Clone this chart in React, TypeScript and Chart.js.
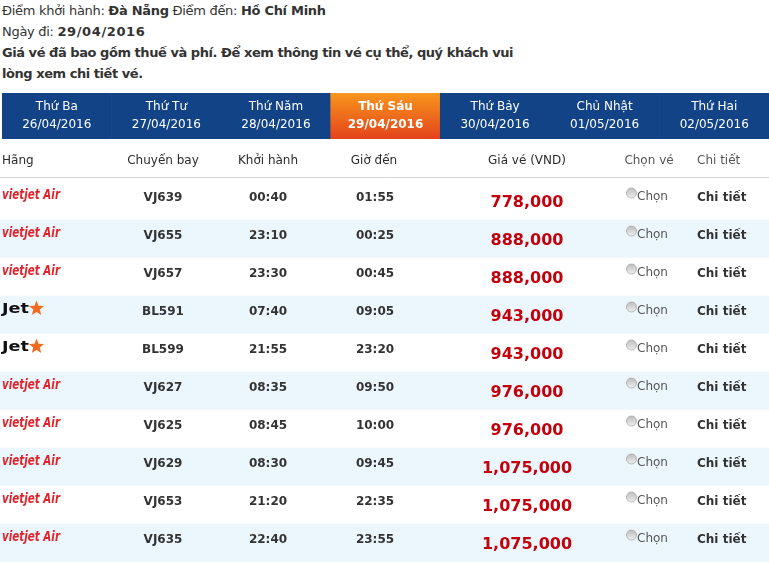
import React, { useEffect, useRef } from "react";
import { Chart, registerables } from "chart.js";

Chart.register(...registerables);

// ---------- data ----------
const dayNames = ["Thứ Ba", "Thứ Tư", "Thứ Năm", "Thứ Sáu", "Thứ Bảy", "Chủ Nhật", "Thứ Hai"];
const dayDates = ["26/04/2016", "27/04/2016", "28/04/2016", "29/04/2016", "30/04/2016", "01/05/2016", "02/05/2016"];
const selectedDay = 3;

const columnHeaders = ["Hãng", "Chuyến bay", "Khởi hành", "Giờ đến", "Giá vé (VND)", "Chọn vé", "Chi tiết"];
const airlines = ["vietjet", "vietjet", "vietjet", "jetstar", "jetstar", "vietjet", "vietjet", "vietjet", "vietjet", "vietjet"];
const flights = ["VJ639", "VJ655", "VJ657", "BL591", "BL599", "VJ627", "VJ625", "VJ629", "VJ653", "VJ635"];
const departures = ["00:40", "23:10", "23:30", "07:40", "21:55", "08:35", "08:45", "08:30", "21:20", "22:40"];
const arrivals = ["01:55", "00:25", "00:45", "09:05", "23:20", "09:50", "10:00", "09:45", "22:35", "23:55"];
const prices = [778000, 888000, 888000, 943000, 943000, 976000, 976000, 1075000, 1075000, 1075000];
const chooseLabel = "Chọn";
const detailLabel = "Chi tiết";

// ---------- layout (not data) ----------
const W = 769;
const TABLE_UNITS = 769; // x-scale span of the table
const COL_ANCHOR = [2, 163, 268, 375, 527, 627, 697];
const HEADER_ANCHOR = [2, 163, 268, 374, 527, 649, 697];
const HEADER_ALIGN: CanvasTextAlign[] = ["left", "center", "center", "center", "center", "center", "left"];
const FONT = '"DejaVu Sans", Verdana, sans-serif';

function DateBand() {
  const ref = useRef<HTMLCanvasElement | null>(null);
  useEffect(() => {
    const canvas = ref.current!;
    const labelPlugin = {
      id: "dayLabels",
      afterDatasetsDraw(chart: any) {
        const { ctx } = chart;
        const xs = chart.scales.x;
        const area = chart.chartArea;
        ctx.save();
        ctx.fillStyle = "#ffffff";
        ctx.textAlign = "center";
        ctx.textBaseline = "middle";
        dayNames.forEach((d, i) => {
          const cx = xs.getPixelForValue(i);
          ctx.font = `${i === selectedDay ? "bold " : ""}12px ${FONT}`;
          ctx.fillText(d, cx, area.top + 14);
          ctx.fillText(dayDates[i], cx, area.top + 32);
        });
        ctx.restore();
      },
    };
    const chart = new Chart(canvas, {
      type: "bar",
      data: {
        labels: dayNames,
        datasets: [
          {
            data: dayNames.map(() => 1),
            barPercentage: 1,
            categoryPercentage: 1,
            borderWidth: 0,
            backgroundColor: (c: any) => {
              if (c.dataIndex !== selectedDay) return "#124386";
              const area = c.chart.chartArea;
              if (!area) return "#f27a1e";
              const g = c.chart.ctx.createLinearGradient(0, area.top, 0, area.bottom);
              g.addColorStop(0, "#f8961d");
              g.addColorStop(1, "#e4421b");
              return g;
            },
          },
        ],
      },
      options: {
        responsive: false,
        animation: false,
        events: [],
        layout: { padding: { left: 2, right: 0, top: 0, bottom: 0 } },
        plugins: { legend: { display: false }, tooltip: { enabled: false } },
        scales: {
          x: { display: false, grid: { display: false } },
          y: { display: false, min: 0, max: 1, grid: { display: false } },
        },
      },
      plugins: [labelPlugin],
    });
    return () => chart.destroy();
  }, []);
  return (
    <canvas
      ref={ref}
      width={W}
      height={46}
      style={{ position: "absolute", left: 0, top: 93, width: W, height: 46 }}
    />
  );
}

function drawStar(ctx: CanvasRenderingContext2D, cx: number, cy: number, outer: number, inner: number) {
  ctx.beginPath();
  for (let k = 0; k < 10; k++) {
    const r = k % 2 === 0 ? outer : inner;
    const a = -Math.PI / 2 + (k * Math.PI) / 5;
    const px = cx + r * Math.cos(a);
    const py = cy + r * Math.sin(a);
    if (k === 0) ctx.moveTo(px, py);
    else ctx.lineTo(px, py);
  }
  ctx.closePath();
  ctx.fill();
}

function fitText(ctx: CanvasRenderingContext2D, text: string, x: number, y: number, width: number) {
  const m = ctx.measureText(text).width;
  ctx.save();
  ctx.translate(x, y);
  ctx.scale(width / m, 1);
  ctx.fillText(text, 0, 0);
  ctx.restore();
}

function FlightTable() {
  const ref = useRef<HTMLCanvasElement | null>(null);
  useEffect(() => {
    const canvas = ref.current!;
    const tablePlugin = {
      id: "tableCells",
      afterDatasetsDraw(chart: any) {
        const { ctx } = chart;
        const xs = chart.scales.x;
        const ys = chart.scales.y;
        const area = chart.chartArea;
        ctx.save();
        // header row
        ctx.textBaseline = "alphabetic";
        columnHeaders.forEach((h, j) => {
          ctx.font = `12px ${FONT}`;
          ctx.fillStyle = j < 5 ? "#2b2b2b" : "#555555";
          ctx.textAlign = HEADER_ALIGN[j];
          ctx.fillText(h, xs.getPixelForValue(HEADER_ANCHOR[j]), area.top - 18);
        });
        ctx.strokeStyle = "#d6d6d6";
        ctx.lineWidth = 1;
        ctx.beginPath();
        ctx.moveTo(area.left, area.top - 4.5);
        ctx.lineTo(area.right, area.top - 4.5);
        ctx.stroke();

        flights.forEach((f, i) => {
          const cy = ys.getPixelForValue(i);
          // airline logo
          const lx = xs.getPixelForValue(COL_ANCHOR[0]);
          ctx.textAlign = "left";
          if (airlines[i] === "vietjet") {
            ctx.font = `italic bold 14px ${FONT}`;
            ctx.fillStyle = "#e0222b";
            fitText(ctx, "vietjet Air", lx, cy - 2, 58);
          } else {
            ctx.font = `bold 14px ${FONT}`;
            ctx.fillStyle = "#111111";
            fitText(ctx, "Jet", lx, cy - 2, 27);
            ctx.fillStyle = "#f36b21";
            drawStar(ctx, lx + 34.5, cy - 6.5, 8, 3.4);
          }
          // flight, times
          ctx.font = `bold 12px ${FONT}`;
          ctx.fillStyle = "#333333";
          ctx.textAlign = "center";
          ctx.fillText(f, xs.getPixelForValue(COL_ANCHOR[1]), cy);
          ctx.fillText(departures[i], xs.getPixelForValue(COL_ANCHOR[2]), cy);
          ctx.fillText(arrivals[i], xs.getPixelForValue(COL_ANCHOR[3]), cy);
          // price
          ctx.font = `bold 16px ${FONT}`;
          ctx.fillStyle = "#c4000c";
          ctx.fillText(prices[i].toLocaleString("en-US"), xs.getPixelForValue(COL_ANCHOR[4]), cy + 6);
          // radio + Chọn
          const rx = xs.getPixelForValue(COL_ANCHOR[5]) + 4.5;
          const ry = cy - 8;
          const rg = ctx.createLinearGradient(0, ry - 5, 0, ry + 5);
          rg.addColorStop(0, "#bdbdbd");
          rg.addColorStop(1, "#f0f0f0");
          ctx.fillStyle = rg;
          ctx.beginPath();
          ctx.arc(rx, ry, 5, 0, Math.PI * 2);
          ctx.fill();
          ctx.strokeStyle = "#a8a8a8";
          ctx.lineWidth = 0.8;
          ctx.stroke();
          ctx.font = `12px ${FONT}`;
          ctx.fillStyle = "#555555";
          ctx.textAlign = "left";
          ctx.fillText(chooseLabel, rx + 5.5, cy - 1);
          // detail
          ctx.font = `bold 12px ${FONT}`;
          ctx.fillStyle = "#333333";
          ctx.fillText(detailLabel, xs.getPixelForValue(COL_ANCHOR[6]), cy);
        });
        ctx.restore();
      },
    };
    const chart = new Chart(canvas, {
      type: "bar",
      data: {
        labels: flights,
        datasets: [
          {
            data: flights.map(() => [0, TABLE_UNITS]) as any,
            barPercentage: 1,
            categoryPercentage: 1,
            borderWidth: 0,
            backgroundColor: flights.map((_, i) => (i % 2 === 1 ? "#ebf7fd" : "#ffffff")),
          },
        ],
      },
      options: {
        indexAxis: "y",
        responsive: false,
        animation: false,
        events: [],
        layout: { padding: { left: 0, right: 0, top: 42, bottom: 3 } },
        plugins: { legend: { display: false }, tooltip: { enabled: false } },
        scales: {
          x: { type: "linear", display: false, min: 0, max: TABLE_UNITS, grid: { display: false } },
          y: { type: "category", display: false, grid: { display: false } },
        },
      },
      plugins: [tablePlugin],
    });
    return () => chart.destroy();
  }, []);
  return (
    <canvas
      ref={ref}
      width={W}
      height={425}
      style={{ position: "absolute", left: 0, top: 140, width: W, height: 425 }}
    />
  );
}

export default function App() {
  const labelStyle: React.CSSProperties = { fontWeight: "normal" };
  return (
    <div
      style={{
        position: "absolute",
        left: 0,
        top: 0,
        width: W,
        height: 565,
        background: "#ffffff",
        overflow: "hidden",
        fontFamily: FONT,
        color: "#333333",
      }}
    >
      <div style={{ position: "absolute", left: 2, top: 0, fontSize: 13, lineHeight: "21px", whiteSpace: "nowrap" }}>
        <div style={{ letterSpacing: "-0.3px" }}>
          <span style={labelStyle}>Điểm khởi hành: </span>
          <b>Đà Nẵng</b>
          <span style={labelStyle}> Điểm đến: </span>
          <b>Hồ Chí Minh</b>
        </div>
        <div>
          <span style={{ ...labelStyle, letterSpacing: "-0.3px" }}>Ngày đi: </span>
          <b style={{ letterSpacing: "0.6px" }}>29/04/2016</b>
        </div>
        <div style={{ fontWeight: "bold", letterSpacing: "-0.45px" }}>
          Giá vé đã bao gồm thuế và phí. Để xem thông tin vé cụ thể, quý khách vui
        </div>
        <div style={{ fontWeight: "bold", letterSpacing: "-0.45px" }}>lòng xem chi tiết vé.</div>
      </div>
      <DateBand />
      <FlightTable />
    </div>
  );
}
